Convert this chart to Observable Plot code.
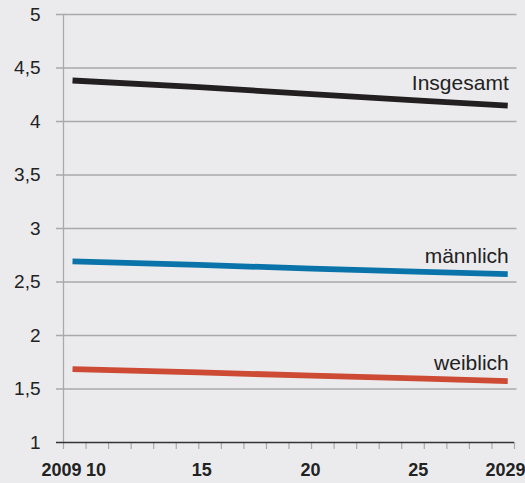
<!DOCTYPE html>
<html>
<head>
<meta charset="utf-8">
<script src="https://cdn.jsdelivr.net/npm/d3@7"></script>
<script src="https://cdn.jsdelivr.net/npm/@observablehq/plot@0.6"></script>
<style>
  html, body { margin: 0; padding: 0; background: #ebebed; overflow: hidden; }
  svg { display: block; }
</style>
</head>
<body>
<div id="chart"></div>
<script>
// ---- data ----
const seriesNames = ["Insgesamt", "männlich", "weiblich"];
const seriesColors = ["#231f20", "#0a74aa", "#cd4a34"];
const pointYears = [2009.4, 2015, 2020, 2025, 2028.7];
const insgesamt = [4.383, 4.322, 4.255, 4.192, 4.148];
const maennlich = [2.692, 2.66, 2.625, 2.595, 2.574];
const weiblich = [1.686, 1.655, 1.625, 1.597, 1.573];
const yTicks = [1, 1.5, 2, 2.5, 3, 3.5, 4, 4.5, 5];
const yTickLabels = ["1", "1,5", "2", "2,5", "3", "3,5", "4", "4,5", "5"];
const minorYears = d3.range(2009, 2030);
const xTickYears = [2009, 2010, 2015, 2020, 2025, 2029];
const xTickLabels = ["2009", "10", "15", "20", "25", "2029"];

const values = [insgesamt, maennlich, weiblich];
const rows = [];
seriesNames.forEach((s, i) => pointYears.forEach((yr, j) => rows.push({series: s, year: yr, value: values[i][j]})));
const lastRows = seriesNames.map((s, i) => ({series: s, year: pointYears[pointYears.length - 1], value: values[i][pointYears.length - 1]}));

// ---- layout ----
const W = 525, H = 483;
const mL = 63, mR = 11, mT = 14, mB = 41;
const pxPerYear = (W - mL - mR) / 20;
const pxPerUnit = (H - mT - mB) / 4;
const gridLeft = 2009 - 7 / pxPerYear;
const gridRight = 2029 + 2.5 / pxPerYear;
const labelShift = {2009: -2, 2010: 10, 2015: 3, 2020: -1, 2025: -6, 2029: -9};

const font = "'Liberation Sans', Arial, Helvetica, sans-serif";

const chart = Plot.plot({
  width: W, height: H,
  marginLeft: mL, marginRight: mR, marginTop: mT, marginBottom: mB,
  style: {background: "#ebebed", fontFamily: font, overflow: "visible"},
  x: {domain: [2009, 2029], axis: null},
  y: {domain: [1, 5], axis: null},
  color: {domain: seriesNames, range: seriesColors},
  marks: [
    Plot.ruleY(yTicks.filter(d => d > 1), {x1: gridLeft, x2: gridRight, stroke: "#a9a9ab", strokeWidth: 1.3, clip: false}),
    Plot.ruleX([2009], {y1: 1, y2: 5, stroke: "#a9a9ab", strokeWidth: 1.3}),
    Plot.ruleX(minorYears, {x: d => d, y1: 1, y2: 1 - 7 / pxPerUnit, stroke: "#a9a9ab", strokeWidth: 1.2}),
    Plot.ruleY([1], {x1: gridLeft, x2: 2029, stroke: "#333", strokeWidth: 1.6}),
    Plot.text(yTicks, {x: 2009, y: d => d, text: (d, i) => yTickLabels[i], textAnchor: "end", dx: -23, fontSize: 19, fill: "#222"}),
    Plot.text(xTickYears, {x: d => d + labelShift[d] / pxPerYear, y: 1, text: (d, i) => xTickLabels[i], dy: 28, fontSize: 18, fontWeight: "bold", fill: "#222"}),
    Plot.line(rows, {x: "year", y: "value", z: "series", stroke: "series", strokeWidth: 5.8, strokeLinecap: "butt"}),
    Plot.text(lastRows.filter(d => d.series === "Insgesamt"), {x: "year", y: "value", text: "series", textAnchor: "end", lineAnchor: "bottom", dx: 1, dy: -16, fontSize: 21, fill: "#222"}),
    Plot.text(lastRows.filter(d => d.series !== "Insgesamt"), {x: "year", y: "value", text: "series", textAnchor: "end", lineAnchor: "bottom", dx: 1, dy: -11, fontSize: 21, fill: "#222"})
  ]
});
document.getElementById("chart").appendChild(chart);
</script>
</body>
</html>
